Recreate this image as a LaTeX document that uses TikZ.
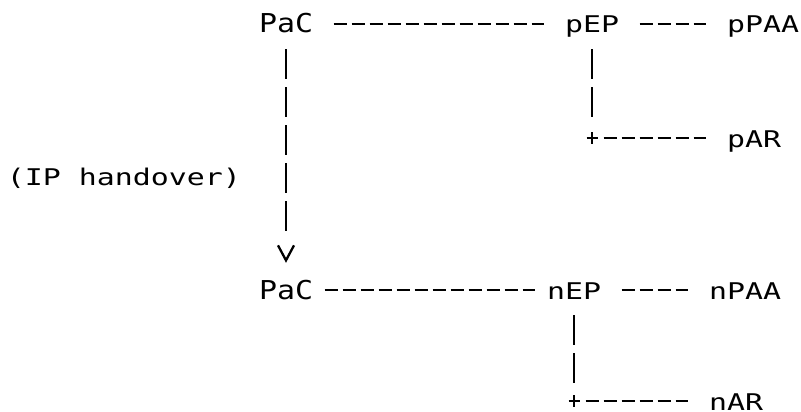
\documentclass[tikz,border=0pt]{standalone}
\usepackage{fontspec}
\usepackage{tikz}
\usetikzlibrary{arrows.meta}
\newfontfamily\asciifont{DejaVu Sans Mono}[FakeStretch=1.30]
\newfontfamily\pacfont{DejaVu Sans Mono}[FakeStretch=1.15]

\begin{document}
\begin{tikzpicture}[
    x=1pt, y=-1pt,
    lbl/.style={inner sep=0pt, text height=28pt, text depth=10pt, font=\asciifont\fontsize{23}{26}\selectfont},
    pac/.style={lbl, font=\pacfont\fontsize{26}{30}\selectfont},
    dashrow/.style={line width=2.2pt, dash pattern=on 13pt off 5pt, shorten <=20.5pt, shorten >=20.5pt},
    piperow/.style={line width=2.3pt, dash pattern=on 30pt off 8pt, shorten <=6pt, shorten >=21pt},
    pipearrow/.style={line width=2.3pt, shorten <=6pt, shorten >=8pt,
        dash pattern=on 30pt off 8pt on 30pt off 8pt on 30pt off 8pt on 30pt off 8pt on 30pt off 60pt,
        -{Straight Barb[length=15pt, width=16pt]}},
    plus/.style={line width=2.5pt},
]
\useasboundingbox (0,0) rectangle (801,412);
% previous point of attachment
\node[pac, minimum width=54pt] (pac1) at (286,24) {PaC};
\node[lbl, minimum width=54pt] (pEP) at (592,24) {pEP};
\node[lbl, minimum width=72pt] (pPAA) at (763,24) {pPAA};
\node[lbl, minimum width=54pt] (pAR) at (754,138) {pAR};
\coordinate (pjoin) at (592,138);
\node[lbl, minimum width=234pt] (hand) at (124,176) {(IP handover)};
% new point of attachment
\node[pac, minimum width=54pt] (pac2) at (286,290) {PaC};
\node[lbl, minimum width=54pt] (nEP) at (574,290) {nEP};
\node[lbl, minimum width=72pt] (nPAA) at (745,290) {nPAA};
\node[lbl, minimum width=54pt] (nAR) at (736,401) {nAR};
\coordinate (njoin) at (574,401);
\draw[dashrow] (pac1) -- (pEP);
\draw[dashrow] (pEP) -- (pPAA);
\draw[piperow] (pEP) -- (pjoin);
\draw[dashrow, shorten <=11.5pt] (pjoin) -- (pAR);
\draw[plus] (pjoin) +(-5.5,0) -- +(5.5,0) +(0,-6) -- +(0,6);
\draw[pipearrow] (pac1) -- (pac2);
\draw[dashrow, shorten <=11.5pt, shorten >=11.5pt] (pac2) -- (nEP);
\draw[dashrow] (nEP) -- (nPAA);
\draw[piperow, shorten >=18pt] (nEP) -- (njoin);
\draw[dashrow, shorten <=11.5pt] (njoin) -- (nAR);
\draw[plus] (njoin) +(-5.5,0) -- +(5.5,0) +(0,-6) -- +(0,6);
\end{tikzpicture}
\end{document}
